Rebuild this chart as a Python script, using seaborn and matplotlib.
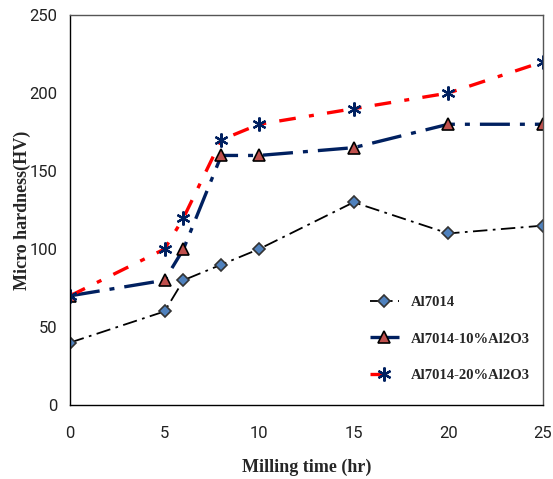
import matplotlib
matplotlib.use("Agg")
import matplotlib.pyplot as plt
import seaborn as sns
import pandas as pd

# ── data ──
milling_time = [0, 5, 6, 8, 10, 15, 20, 25]
al7014 = [40, 60, 80, 90, 100, 130, 110, 115]
al7014_10 = [70, 80, 100, 160, 160, 165, 180, 180]
al7014_20 = [70, 100, 120, 170, 180, 190, 200, 220]
series_names = ["Al7014", "Al7014-10%Al2O3", "Al7014-20%Al2O3"]

df = pd.DataFrame({
    "time": milling_time * 3,
    "hv": al7014 + al7014_10 + al7014_20,
    "series": [s for s in series_names for _ in milling_time],
})

sns.set_theme(style="white")
fig = plt.figure(figsize=(5.53, 4.79), dpi=100)
ax = fig.add_axes([0.1266, 0.1545, 0.855, 0.814])

styles = {
    "Al7014": dict(color="black", lw=1.3, dashes=[8, 3, 1.5, 3],
                   marker="D", ms=6, mfc="#4F81BD", mec="#333333", mew=1.2),
    "Al7014-10%Al2O3": dict(color="#002060", lw=2.4, dashes=[9, 3, 1.5, 3],
                            marker="^", ms=8, mfc="#C0504D", mec="black", mew=1.2),
    "Al7014-20%Al2O3": dict(color="#FF0000", lw=2.4, dashes=[5, 4, 1.5, 4],
                            marker=(6, 2, 0), ms=10, mfc="#002060", mec="#002060", mew=1.6),
}

for name in series_names:
    st = styles[name]
    sub = df[df["series"] == name]
    sns.lineplot(data=sub, x="time", y="hv", ax=ax, label=name,
                 color=st["color"], lw=st["lw"], marker=st["marker"],
                 markersize=st["ms"], markerfacecolor=st["mfc"],
                 markeredgecolor=st["mec"], markeredgewidth=st["mew"])
    ax.lines[-1].set_dashes(st["dashes"])

ax.set_xlim(0, 25)
ax.set_ylim(0, 250)
ax.set_xticks([0, 5, 10, 15, 20, 25])
ax.set_yticks([0, 50, 100, 150, 200, 250])

for lab in ax.get_xticklabels() + ax.get_yticklabels():
    lab.set_fontfamily(["Roboto", "DejaVu Sans"])
    lab.set_fontsize(12)
    lab.set_color("#222222")
ax.tick_params(axis="x", pad=15, length=0)
ax.tick_params(axis="y", pad=9, length=0)

for sp in ax.spines.values():
    sp.set_color("#555555")
    sp.set_linewidth(1.0)
ax.spines["left"].set_color("black")
ax.spines["bottom"].set_color("black")

ax.set_xlabel("Milling time (hr)", fontfamily="Liberation Serif",
              fontweight="bold", fontsize=13, labelpad=13)
ax.set_ylabel("Micro hardness(HV)", fontfamily="Liberation Serif",
              fontweight="bold", fontsize=13, labelpad=-1)

leg = ax.legend(loc="lower right", bbox_to_anchor=(1.0, 0.025), frameon=False,
                prop={"family": "Liberation Serif", "weight": "bold", "size": 10.5},
                labelspacing=1.6, handlelength=2.0, handletextpad=0.8)
for h, name in zip(leg.get_lines(), series_names):
    h.set_dashes(styles[name]["dashes"])

fig.savefig("out.png", dpi=100)
